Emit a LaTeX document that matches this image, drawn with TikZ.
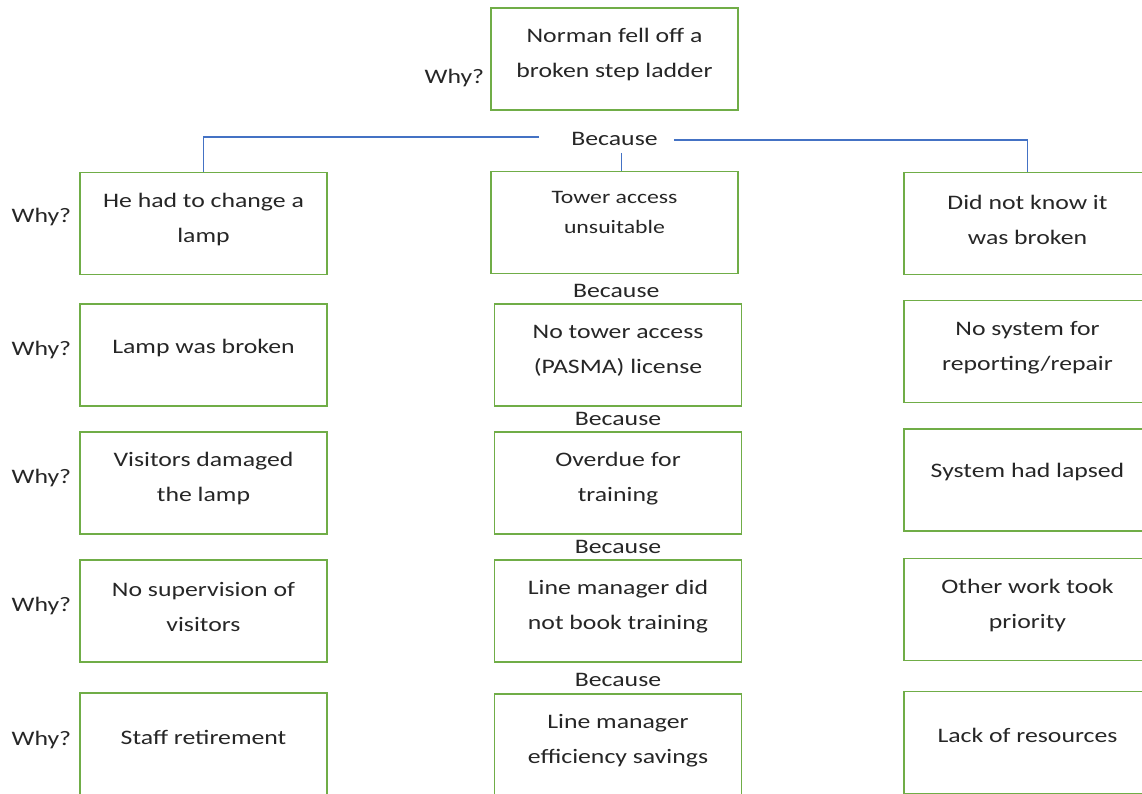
\documentclass[tikz,border=0pt]{standalone}
\usepackage{fontspec}
\setmainfont{Carlito}[FakeStretch=1.25]
\usepackage{tikz}
\usetikzlibrary{positioning,calc}
\definecolor{boxgreen}{HTML}{70AD47}
\definecolor{linkblue}{HTML}{4472C4}
\definecolor{inktext}{HTML}{262626}
\tikzset{
  box/.style={rectangle,draw=boxgreen,line width=1.3pt,minimum width=247pt,
    minimum height=102pt,inner sep=0pt},
  txt/.style={align=center,text=inktext,inner sep=0pt,
    font=\fontsize{20.6}{35}\selectfont},
  why/.style={text=inktext,inner sep=0pt,font=\fontsize{20.6}{25}\selectfont},
  bec/.style={text=inktext,inner sep=0pt,font=\fontsize{20.6}{25}\selectfont},
  link/.style={linkblue,line width=1.2pt},
}
\begin{document}
\begin{tikzpicture}[x=1pt,y=-1pt]
\clip (0,0) rectangle (1142,794);

% PROBLEM (top)
\node[box] (T) at (614.5,59) {};
\node[txt] (Tt) at ([yshift=4pt]T.center) {Norman fell off a\\broken step ladder};
\node[why,left=6pt of T,yshift=-19pt] (Tw) {Why?};
\node[bec] (B1) at (614.5,139) {Because};

% LEFT column
\node[box] (L1) at (203.5,223.5) {};
\node[txt] (L1t) at ([yshift=4pt]L1.center) {He had to change a\\lamp};
\node[box] (L2) at (203.5,355) {};
\node[txt] (L2t) at ([yshift=7pt]L2.center) {Lamp was broken};
\node[box] (L3) at (203.5,483) {};
\node[txt] (L3t) at ([yshift=4pt]L3.center) {Visitors damaged\\the lamp};
\node[box] (L4) at (203.5,611) {};
\node[txt] (L4t) at ([yshift=4pt]L4.center) {No supervision of\\visitors};
\node[box] (L5) at (203.5,744) {};
\node[txt] (L5t) at ([yshift=7pt]L5.center) {Staff retirement};

\node[why,left=8pt of L1,yshift=6pt] (W1) {Why?};
\node[why,left=8pt of L2,yshift=5pt] (W2) {Why?};
\node[why,left=8pt of L3,yshift=5pt] (W3) {Why?};
\node[why,left=8pt of L4,yshift=5pt] (W4) {Why?};
\node[why,left=8pt of L5,yshift=4pt] (W5) {Why?};

% CENTRE column
\node[box] (C1) at (614.5,222.5) {};
\node[txt,font=\fontsize{19}{30}\selectfont] (C1t) at ([yshift=10pt]C1.center)
  {Tower access\\unsuitable};
\node[box] (C2) at (618,355) {};
\node[txt] (C2t) at ([yshift=4pt]C2.center) {No tower access\\(PASMA) license};
\node[box] (C3) at (618,483) {};
\node[txt] (C3t) at ([yshift=4pt]C3.center) {Overdue for\\training};
\node[box] (C4) at (618,611) {};
\node[txt] (C4t) at ([yshift=4pt]C4.center) {Line manager did\\not book training};
\node[box] (C5) at (618,745) {};
\node[txt] (C5t) at ([yshift=4pt]C5.center) {Line manager\\efficiency savings};

\node[bec] (B2) at ($(C1.south)!0.5!(C2.north)+(0,2.5)$) {Because};
\node[bec] (B3) at ($(C2.south)!0.5!(C3.north)$) {Because};
\node[bec] (B4) at ($(C3.south)!0.5!(C4.north)$) {Because};
\node[bec] (B5) at ($(C4.south)!0.5!(C5.north)+(0,1.5)$) {Because};

% RIGHT column
\node[box] (R1) at (1027.5,223.5) {};
\node[txt] (R1t) at ([yshift=4pt]R1.center) {Did not know it\\was broken};
\node[box] (R2) at (1027.5,351.5) {};
\node[txt] (R2t) at ([yshift=4pt]R2.center) {No system for\\reporting/repair};
\node[box] (R3) at (1027.5,480) {};
\node[txt] (R3t) at ([yshift=8pt]R3.center) {System had lapsed};
\node[box] (R4) at (1027.5,609.5) {};
\node[txt] (R4t) at ([yshift=4pt]R4.center) {Other work took\\priority};
\node[box] (R5) at (1027.5,742.5) {};
\node[txt] (R5t) at ([yshift=7pt]R5.center) {Lack of resources};

% Links
\draw[link] ([xshift=-32pt,yshift=2pt]B1.west) -| (L1.north);
\draw[link] ([xshift=16pt,yshift=-1pt]B1.east) -| (R1.north);
\draw[link] ([xshift=7pt,yshift=-7pt]B1.south) -- ([xshift=7pt]C1.north);
\end{tikzpicture}
\end{document}
